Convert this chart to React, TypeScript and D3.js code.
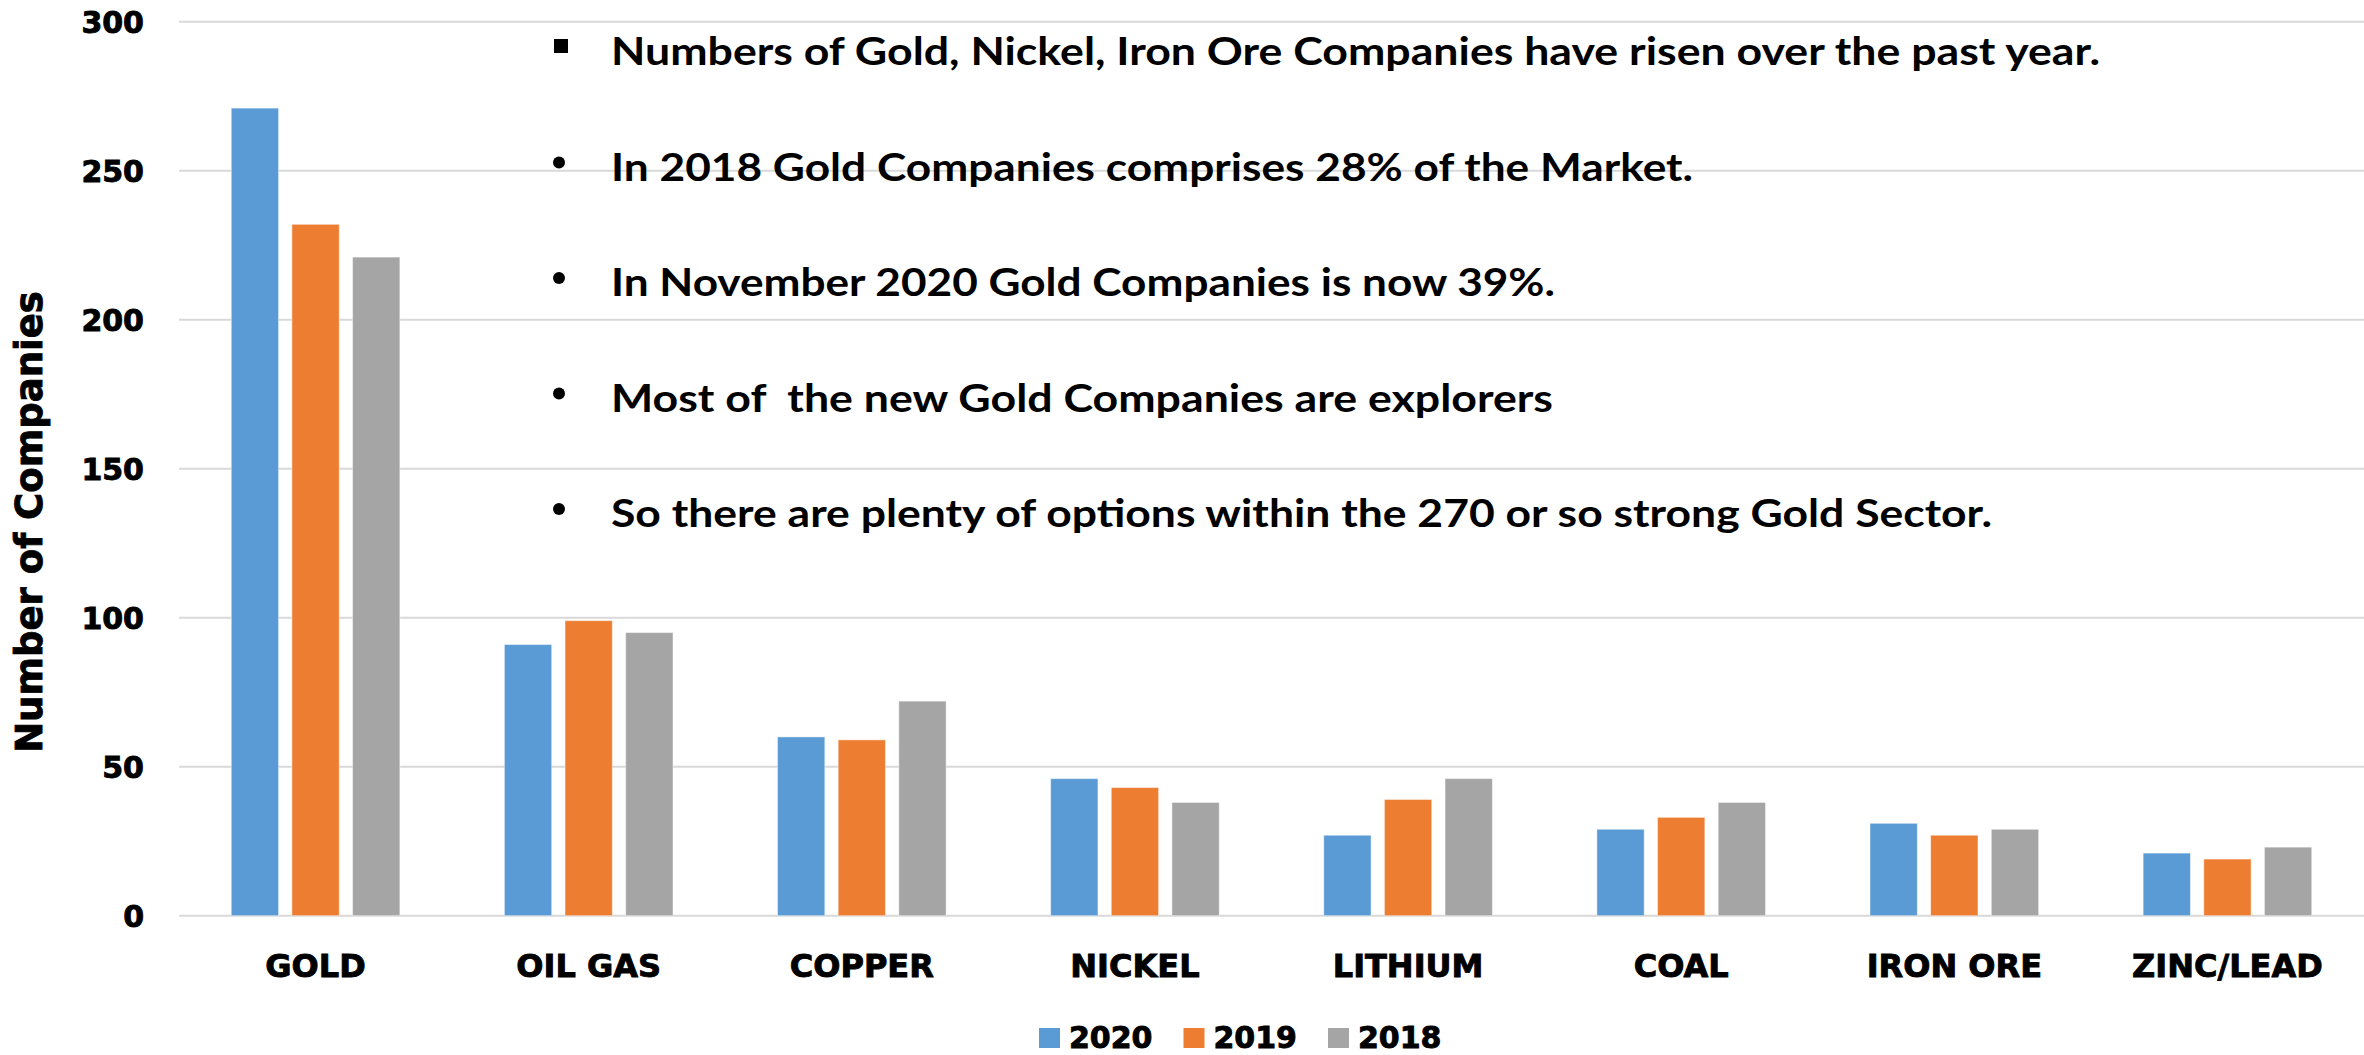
import React from "react";
import * as d3 from "d3";

const categories = ["GOLD", "OIL GAS", "COPPER", "NICKEL", "LITHIUM", "COAL", "IRON ORE", "ZINC/LEAD"];
const years = ["2020", "2019", "2018"];
const values2020 = [271, 91, 60, 46, 27, 29, 31, 21];
const values2019 = [232, 99, 59, 43, 39, 33, 27, 19];
const values2018 = [221, 95, 72, 38, 46, 38, 29, 23];
const seriesColors = ["#5b9bd5", "#ed7d31", "#a5a5a5"];
const yTicks = [0, 50, 100, 150, 200, 250, 300];
const yTitle = "Number of Companies";
const notes = [
  "Numbers of Gold, Nickel, Iron Ore Companies have risen over the past year.",
  "In 2018 Gold Companies comprises 28% of the Market.",
  "In November 2020 Gold Companies is now 39%.",
  "Most of  the new Gold Companies are explorers",
  "So there are plenty of options within the 270 or so strong Gold Sector.",
];
const noteWidths = [1489, 1082, 944, 942, 1381];

const W = 2364;
const H = 1055;
const plotLeft = 179;
const plotRight = 2364;
const yTop = 21.7;
const yBottom = 915.7;

const axisFont = "'DejaVu Sans', sans-serif";
const noteFont = "Lato, 'Open Sans', sans-serif";
const heavy = { stroke: "#000", strokeWidth: 0.9, paintOrder: "stroke" } as const;

export default function App() {
  const seriesValues = [values2020, values2019, values2018];
  const x0 = d3.scaleBand<string>().domain(categories).range([plotLeft, plotRight]).padding(0);
  const x1 = d3.scaleBand<string>().domain(years).range([-84.3, 84.3]).paddingInner(0.22).paddingOuter(0);
  const y = d3.scaleLinear().domain([0, 300]).range([yBottom, yTop]);

  const center = (c: string) => (x0(c) as number) + x0.bandwidth() / 2;

  return (
    <svg
      width={W}
      height={H}
      viewBox={`0 0 ${W} ${H}`}
      style={{ position: "absolute", left: 0, top: 0, background: "#fff" }}
    >
      <rect x={0} y={0} width={W} height={H} fill="#fff" />
      {yTicks.map((t) => (
        <line key={"g" + t} x1={plotLeft} x2={plotRight} y1={y(t)} y2={y(t)} stroke="#d9d9d9" strokeWidth={2} />
      ))}
      {yTicks.map((t) => (
        <text
          key={"t" + t}
          x={144}
          y={y(t)}
          dy="0.36em"
          textAnchor="end"
          fontFamily={axisFont}
          fontWeight="bold"
          fontSize={30}
          fill="#000"
          {...heavy}
        >
          {t}
        </text>
      ))}
      <text
        transform={`translate(42, 522) rotate(-90)`}
        textAnchor="middle"
        fontFamily={axisFont}
        fontWeight="bold"
        fontSize={37}
        fill="#000"
        {...heavy}
      >
        {yTitle}
      </text>
      {categories.map((c, ci) =>
        years.map((yr, si) => {
          const v = seriesValues[si][ci];
          const bx = center(c) + (x1(yr) as number);
          return (
            <rect
              key={c + yr}
              x={bx}
              y={y(v)}
              width={x1.bandwidth()}
              height={y(0) - y(v)}
              fill={seriesColors[si]}
              stroke="#ffffff"
              strokeOpacity={0.45}
              strokeWidth={1}
            />
          );
        })
      )}
      {categories.map((c) => (
        <text
          key={"c" + c}
          x={center(c)}
          y={977}
          textAnchor="middle"
          fontFamily={axisFont}
          fontWeight="bold"
          fontSize={32}
          fill="#000"
          {...heavy}
        >
          {c}
        </text>
      ))}
      {years.map((yr, i) => {
        const lx = 1039 + i * 144.5;
        return (
          <g key={"l" + yr}>
            <rect x={lx} y={1028} width={21} height={20} fill={seriesColors[i]} />
            <text
              x={lx + 30}
              y={1048}
              fontFamily={axisFont}
              fontWeight="bold"
              fontSize={30}
              fill="#000"
              {...heavy}
            >
              {yr}
            </text>
          </g>
        );
      })}
      {notes.map((n, i) => {
        const base = 65 + i * 115.5;
        return (
          <g key={"n" + i}>
            {i === 0 ? (
              <rect x={554} y={base - 26} width={14} height={14} fill="#000" />
            ) : (
              <circle cx={559} cy={base - 18} r={6} fill="#000" />
            )}
            <text
              x={611}
              y={base}
              fontFamily={noteFont}
              fontWeight="bold"
              fontSize={39}
              fill="#000"
              textLength={noteWidths[i]}
              lengthAdjust="spacingAndGlyphs"
              style={{ whiteSpace: "pre" }}
            >
              {n}
            </text>
          </g>
        );
      })}
    </svg>
  );
}
